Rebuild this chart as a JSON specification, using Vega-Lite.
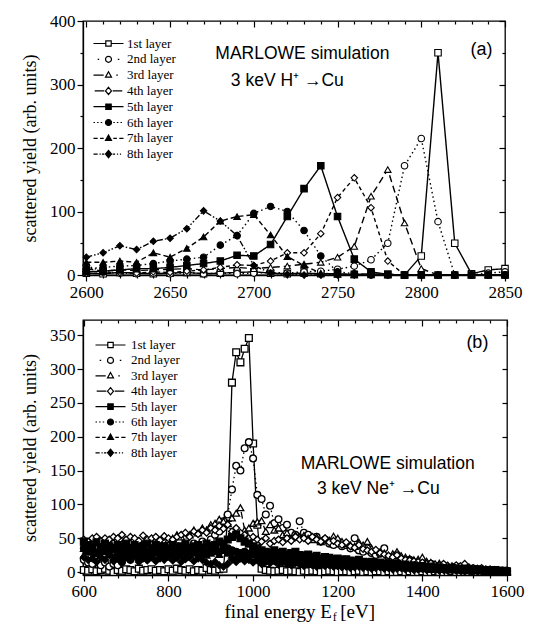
{
"$schema": "https://vega.github.io/schema/vega-lite/v6.json",
"padding": {"left": 20, "top": 11, "right": 0, "bottom": 0},
"spacing": 17,
"config": {
  "view": {"stroke": "black", "strokeWidth": 1.3},
  "font": "Liberation Serif",
  "axis": {"grid": false, "domainColor": "black", "domainWidth": 1.3, "tickColor": "black", "tickWidth": 1.2, "labelColor": "black", "labelFont": "Liberation Serif", "labelFontSize": 17, "titleFont": "Liberation Serif", "titleFontSize": 18, "titleFontWeight": "normal", "titleColor": "black", "labelPadding": 2, "labelFlush": false, "labelOverlap": false, "titlePadding": 10, "format": "d"},
  "legend": {"orient": "none", "title": null, "padding": 0, "labelFont": "Liberation Serif", "labelFontSize": 13, "labelColor": "black", "symbolSize": 36, "symbolStrokeWidth": 1.2, "symbolStrokeColor": "black", "rowPadding": 1.8}
},
"datasets": {
"top": [
{"s":1,"E":2600,"Y":3},{"s":1,"E":2610,"Y":2},{"s":1,"E":2620,"Y":4},{"s":1,"E":2630,"Y":3},{"s":1,"E":2640,"Y":2},{"s":1,"E":2650,"Y":3},{"s":1,"E":2660,"Y":4},{"s":1,"E":2670,"Y":2},{"s":1,"E":2680,"Y":3},{"s":1,"E":2690,"Y":4},{"s":1,"E":2700,"Y":5},{"s":1,"E":2710,"Y":3},{"s":1,"E":2720,"Y":2},{"s":1,"E":2730,"Y":3},{"s":1,"E":2740,"Y":2},{"s":1,"E":2750,"Y":2},{"s":1,"E":2760,"Y":1},{"s":1,"E":2770,"Y":2},{"s":1,"E":2780,"Y":1},{"s":1,"E":2790,"Y":0},{"s":1,"E":2800,"Y":30},{"s":1,"E":2810,"Y":350},{"s":1,"E":2820,"Y":50},{"s":1,"E":2830,"Y":2},{"s":1,"E":2840,"Y":8},{"s":1,"E":2850,"Y":10},
{"s":2,"E":2600,"Y":15},{"s":2,"E":2610,"Y":5},{"s":2,"E":2620,"Y":3},{"s":2,"E":2630,"Y":2},{"s":2,"E":2640,"Y":3},{"s":2,"E":2650,"Y":2},{"s":2,"E":2660,"Y":4},{"s":2,"E":2670,"Y":2},{"s":2,"E":2680,"Y":3},{"s":2,"E":2690,"Y":2},{"s":2,"E":2700,"Y":3},{"s":2,"E":2710,"Y":4},{"s":2,"E":2720,"Y":3},{"s":2,"E":2730,"Y":5},{"s":2,"E":2740,"Y":6},{"s":2,"E":2750,"Y":9},{"s":2,"E":2760,"Y":14},{"s":2,"E":2770,"Y":24},{"s":2,"E":2780,"Y":50},{"s":2,"E":2790,"Y":172},{"s":2,"E":2800,"Y":215},{"s":2,"E":2810,"Y":84},{"s":2,"E":2820,"Y":0},{"s":2,"E":2830,"Y":0},{"s":2,"E":2840,"Y":3},{"s":2,"E":2850,"Y":5},
{"s":3,"E":2600,"Y":10},{"s":3,"E":2610,"Y":6},{"s":3,"E":2620,"Y":8},{"s":3,"E":2630,"Y":7},{"s":3,"E":2640,"Y":8},{"s":3,"E":2650,"Y":9},{"s":3,"E":2660,"Y":10},{"s":3,"E":2670,"Y":8},{"s":3,"E":2680,"Y":10},{"s":3,"E":2690,"Y":12},{"s":3,"E":2700,"Y":10},{"s":3,"E":2710,"Y":12},{"s":3,"E":2720,"Y":14},{"s":3,"E":2730,"Y":17},{"s":3,"E":2740,"Y":20},{"s":3,"E":2750,"Y":28},{"s":3,"E":2760,"Y":45},{"s":3,"E":2770,"Y":124},{"s":3,"E":2780,"Y":166},{"s":3,"E":2790,"Y":82},{"s":3,"E":2800,"Y":10},{"s":3,"E":2810,"Y":0},{"s":3,"E":2820,"Y":0},{"s":3,"E":2830,"Y":0},{"s":3,"E":2840,"Y":0},{"s":3,"E":2850,"Y":0},
{"s":4,"E":2600,"Y":2},{"s":4,"E":2610,"Y":3},{"s":4,"E":2620,"Y":4},{"s":4,"E":2630,"Y":3},{"s":4,"E":2640,"Y":5},{"s":4,"E":2650,"Y":4},{"s":4,"E":2660,"Y":6},{"s":4,"E":2670,"Y":8},{"s":4,"E":2680,"Y":12},{"s":4,"E":2690,"Y":16},{"s":4,"E":2700,"Y":15},{"s":4,"E":2710,"Y":22},{"s":4,"E":2720,"Y":35},{"s":4,"E":2730,"Y":35},{"s":4,"E":2740,"Y":65},{"s":4,"E":2750,"Y":122},{"s":4,"E":2760,"Y":153},{"s":4,"E":2770,"Y":106},{"s":4,"E":2780,"Y":22},{"s":4,"E":2790,"Y":0},{"s":4,"E":2800,"Y":0},{"s":4,"E":2810,"Y":0},{"s":4,"E":2820,"Y":0},{"s":4,"E":2830,"Y":0},{"s":4,"E":2840,"Y":0},{"s":4,"E":2850,"Y":0},
{"s":5,"E":2600,"Y":5},{"s":5,"E":2610,"Y":6},{"s":5,"E":2620,"Y":8},{"s":5,"E":2630,"Y":10},{"s":5,"E":2640,"Y":10},{"s":5,"E":2650,"Y":12},{"s":5,"E":2660,"Y":15},{"s":5,"E":2670,"Y":18},{"s":5,"E":2680,"Y":22},{"s":5,"E":2690,"Y":31},{"s":5,"E":2700,"Y":30},{"s":5,"E":2710,"Y":48},{"s":5,"E":2720,"Y":92},{"s":5,"E":2730,"Y":136},{"s":5,"E":2740,"Y":172},{"s":5,"E":2750,"Y":92},{"s":5,"E":2760,"Y":25},{"s":5,"E":2770,"Y":5},{"s":5,"E":2780,"Y":1},{"s":5,"E":2790,"Y":0},{"s":5,"E":2800,"Y":0},{"s":5,"E":2810,"Y":0},{"s":5,"E":2820,"Y":0},{"s":5,"E":2830,"Y":0},{"s":5,"E":2840,"Y":0},{"s":5,"E":2850,"Y":0},
{"s":6,"E":2600,"Y":10},{"s":6,"E":2610,"Y":12},{"s":6,"E":2620,"Y":14},{"s":6,"E":2630,"Y":15},{"s":6,"E":2640,"Y":18},{"s":6,"E":2650,"Y":22},{"s":6,"E":2660,"Y":25},{"s":6,"E":2670,"Y":28},{"s":6,"E":2680,"Y":47},{"s":6,"E":2690,"Y":62},{"s":6,"E":2700,"Y":97},{"s":6,"E":2710,"Y":108},{"s":6,"E":2720,"Y":100},{"s":6,"E":2730,"Y":70},{"s":6,"E":2740,"Y":30},{"s":6,"E":2750,"Y":5},{"s":6,"E":2760,"Y":2},{"s":6,"E":2770,"Y":0},{"s":6,"E":2780,"Y":0},{"s":6,"E":2790,"Y":0},{"s":6,"E":2800,"Y":0},{"s":6,"E":2810,"Y":0},{"s":6,"E":2820,"Y":0},{"s":6,"E":2830,"Y":0},{"s":6,"E":2840,"Y":0},{"s":6,"E":2850,"Y":0},
{"s":7,"E":2600,"Y":20},{"s":7,"E":2610,"Y":20},{"s":7,"E":2620,"Y":22},{"s":7,"E":2630,"Y":20},{"s":7,"E":2640,"Y":35},{"s":7,"E":2650,"Y":28},{"s":7,"E":2660,"Y":42},{"s":7,"E":2670,"Y":60},{"s":7,"E":2680,"Y":85},{"s":7,"E":2690,"Y":92},{"s":7,"E":2700,"Y":95},{"s":7,"E":2710,"Y":63},{"s":7,"E":2720,"Y":29},{"s":7,"E":2730,"Y":15},{"s":7,"E":2740,"Y":3},{"s":7,"E":2750,"Y":1},{"s":7,"E":2760,"Y":0},{"s":7,"E":2770,"Y":0},{"s":7,"E":2780,"Y":0},{"s":7,"E":2790,"Y":0},{"s":7,"E":2800,"Y":0},{"s":7,"E":2810,"Y":0},{"s":7,"E":2820,"Y":0},{"s":7,"E":2830,"Y":0},{"s":7,"E":2840,"Y":0},{"s":7,"E":2850,"Y":0},
{"s":8,"E":2600,"Y":28},{"s":8,"E":2610,"Y":35},{"s":8,"E":2620,"Y":46},{"s":8,"E":2630,"Y":40},{"s":8,"E":2640,"Y":53},{"s":8,"E":2650,"Y":58},{"s":8,"E":2660,"Y":73},{"s":8,"E":2670,"Y":101},{"s":8,"E":2680,"Y":85},{"s":8,"E":2690,"Y":62},{"s":8,"E":2700,"Y":15},{"s":8,"E":2710,"Y":3},{"s":8,"E":2720,"Y":1},{"s":8,"E":2730,"Y":0},{"s":8,"E":2740,"Y":0},{"s":8,"E":2750,"Y":0},{"s":8,"E":2760,"Y":0},{"s":8,"E":2770,"Y":0},{"s":8,"E":2780,"Y":0},{"s":8,"E":2790,"Y":0},{"s":8,"E":2800,"Y":0},{"s":8,"E":2810,"Y":0},{"s":8,"E":2820,"Y":0},{"s":8,"E":2830,"Y":0},{"s":8,"E":2840,"Y":0},{"s":8,"E":2850,"Y":0}
],
"bot": [
{"s":1,"E":600,"Y":3},{"s":1,"E":610,"Y":2},{"s":1,"E":620,"Y":4},{"s":1,"E":630,"Y":1},{"s":1,"E":640,"Y":3},{"s":1,"E":650,"Y":5},{"s":1,"E":660,"Y":2},{"s":1,"E":670,"Y":0},{"s":1,"E":680,"Y":3},{"s":1,"E":690,"Y":2},
{"s":1,"E":700,"Y":4},{"s":1,"E":710,"Y":3},{"s":1,"E":720,"Y":1},{"s":1,"E":730,"Y":5},{"s":1,"E":740,"Y":2},{"s":1,"E":750,"Y":3},{"s":1,"E":760,"Y":4},{"s":1,"E":770,"Y":2},{"s":1,"E":780,"Y":3},{"s":1,"E":790,"Y":1},
{"s":1,"E":800,"Y":4},{"s":1,"E":810,"Y":2},{"s":1,"E":820,"Y":5},{"s":1,"E":830,"Y":3},{"s":1,"E":840,"Y":2},{"s":1,"E":850,"Y":4},{"s":1,"E":860,"Y":1},{"s":1,"E":870,"Y":3},{"s":1,"E":880,"Y":2},{"s":1,"E":890,"Y":6},
{"s":1,"E":900,"Y":3},{"s":1,"E":910,"Y":2},{"s":1,"E":920,"Y":4},{"s":1,"E":930,"Y":5},{"s":1,"E":940,"Y":80},{"s":1,"E":950,"Y":280},{"s":1,"E":960,"Y":325},{"s":1,"E":970,"Y":310},{"s":1,"E":980,"Y":330},{"s":1,"E":990,"Y":346},
{"s":1,"E":1000,"Y":190},{"s":1,"E":1010,"Y":70},{"s":1,"E":1020,"Y":5},{"s":1,"E":1030,"Y":3},{"s":1,"E":1040,"Y":2},{"s":1,"E":1050,"Y":1},{"s":1,"E":1060,"Y":2},{"s":1,"E":1070,"Y":3},{"s":1,"E":1080,"Y":1},{"s":1,"E":1090,"Y":2},
{"s":1,"E":1100,"Y":1},{"s":1,"E":1110,"Y":0},{"s":1,"E":1120,"Y":2},{"s":1,"E":1130,"Y":1},{"s":1,"E":1140,"Y":2},{"s":1,"E":1150,"Y":1},{"s":1,"E":1160,"Y":0},{"s":1,"E":1170,"Y":1},{"s":1,"E":1180,"Y":2},{"s":1,"E":1190,"Y":1},
{"s":1,"E":1200,"Y":0},{"s":1,"E":1210,"Y":1},{"s":1,"E":1220,"Y":1},{"s":1,"E":1230,"Y":0},{"s":1,"E":1240,"Y":1},{"s":1,"E":1250,"Y":2},{"s":1,"E":1260,"Y":0},{"s":1,"E":1270,"Y":1},{"s":1,"E":1280,"Y":0},{"s":1,"E":1290,"Y":1},
{"s":1,"E":1300,"Y":1},{"s":1,"E":1310,"Y":0},{"s":1,"E":1320,"Y":1},{"s":1,"E":1330,"Y":0},{"s":1,"E":1340,"Y":0},{"s":1,"E":1350,"Y":1},{"s":1,"E":1360,"Y":0},{"s":1,"E":1370,"Y":1},{"s":1,"E":1380,"Y":0},{"s":1,"E":1390,"Y":0},
{"s":1,"E":1400,"Y":1},{"s":1,"E":1410,"Y":0},{"s":1,"E":1420,"Y":0},{"s":1,"E":1430,"Y":1},{"s":1,"E":1440,"Y":0},{"s":1,"E":1450,"Y":0},{"s":1,"E":1460,"Y":0},{"s":1,"E":1470,"Y":1},{"s":1,"E":1480,"Y":0},{"s":1,"E":1490,"Y":0},
{"s":1,"E":1500,"Y":0},{"s":1,"E":1510,"Y":0},{"s":1,"E":1520,"Y":1},{"s":1,"E":1530,"Y":0},{"s":1,"E":1540,"Y":0},{"s":1,"E":1550,"Y":0},{"s":1,"E":1560,"Y":0},{"s":1,"E":1570,"Y":0},{"s":1,"E":1580,"Y":0},{"s":1,"E":1590,"Y":0},{"s":1,"E":1600,"Y":0},
{"s":2,"E":600,"Y":18},{"s":2,"E":610,"Y":14},{"s":2,"E":620,"Y":12},{"s":2,"E":630,"Y":20},{"s":2,"E":640,"Y":10},{"s":2,"E":650,"Y":14},{"s":2,"E":660,"Y":8},{"s":2,"E":670,"Y":12},{"s":2,"E":680,"Y":10},{"s":2,"E":690,"Y":15},
{"s":2,"E":700,"Y":22},{"s":2,"E":710,"Y":18},{"s":2,"E":720,"Y":25},{"s":2,"E":730,"Y":20},{"s":2,"E":740,"Y":28},{"s":2,"E":750,"Y":24},{"s":2,"E":760,"Y":30},{"s":2,"E":770,"Y":26},{"s":2,"E":780,"Y":32},{"s":2,"E":790,"Y":28},
{"s":2,"E":800,"Y":35},{"s":2,"E":810,"Y":30},{"s":2,"E":820,"Y":38},{"s":2,"E":830,"Y":34},{"s":2,"E":840,"Y":40},{"s":2,"E":850,"Y":36},{"s":2,"E":860,"Y":42},{"s":2,"E":870,"Y":38},{"s":2,"E":880,"Y":45},{"s":2,"E":890,"Y":40},
{"s":2,"E":900,"Y":48},{"s":2,"E":910,"Y":55},{"s":2,"E":920,"Y":60},{"s":2,"E":930,"Y":75},{"s":2,"E":940,"Y":85},{"s":2,"E":950,"Y":122},{"s":2,"E":960,"Y":157},{"s":2,"E":970,"Y":150},{"s":2,"E":980,"Y":183},{"s":2,"E":990,"Y":192},
{"s":2,"E":1000,"Y":168},{"s":2,"E":1010,"Y":114},{"s":2,"E":1020,"Y":108},{"s":2,"E":1030,"Y":85},{"s":2,"E":1040,"Y":98},{"s":2,"E":1050,"Y":72},{"s":2,"E":1060,"Y":78},{"s":2,"E":1070,"Y":65},{"s":2,"E":1080,"Y":70},{"s":2,"E":1090,"Y":58},
{"s":2,"E":1100,"Y":55},{"s":2,"E":1110,"Y":75},{"s":2,"E":1120,"Y":58},{"s":2,"E":1130,"Y":55},{"s":2,"E":1140,"Y":50},{"s":2,"E":1150,"Y":52},{"s":2,"E":1160,"Y":45},{"s":2,"E":1170,"Y":48},{"s":2,"E":1180,"Y":42},{"s":2,"E":1190,"Y":40},
{"s":2,"E":1200,"Y":45},{"s":2,"E":1210,"Y":38},{"s":2,"E":1220,"Y":40},{"s":2,"E":1230,"Y":35},{"s":2,"E":1240,"Y":50},{"s":2,"E":1250,"Y":32},{"s":2,"E":1260,"Y":30},{"s":2,"E":1270,"Y":35},{"s":2,"E":1280,"Y":28},{"s":2,"E":1290,"Y":25},
{"s":2,"E":1300,"Y":27},{"s":2,"E":1310,"Y":35},{"s":2,"E":1320,"Y":22},{"s":2,"E":1330,"Y":20},{"s":2,"E":1340,"Y":25},{"s":2,"E":1350,"Y":18},{"s":2,"E":1360,"Y":16},{"s":2,"E":1370,"Y":18},{"s":2,"E":1380,"Y":14},{"s":2,"E":1390,"Y":12},
{"s":2,"E":1400,"Y":15},{"s":2,"E":1410,"Y":10},{"s":2,"E":1420,"Y":12},{"s":2,"E":1430,"Y":9},{"s":2,"E":1440,"Y":8},{"s":2,"E":1450,"Y":10},{"s":2,"E":1460,"Y":7},{"s":2,"E":1470,"Y":6},{"s":2,"E":1480,"Y":8},{"s":2,"E":1490,"Y":5},
{"s":2,"E":1500,"Y":6},{"s":2,"E":1510,"Y":4},{"s":2,"E":1520,"Y":5},{"s":2,"E":1530,"Y":3},{"s":2,"E":1540,"Y":4},{"s":2,"E":1550,"Y":3},{"s":2,"E":1560,"Y":2},{"s":2,"E":1570,"Y":3},{"s":2,"E":1580,"Y":2},{"s":2,"E":1590,"Y":1},{"s":2,"E":1600,"Y":2},
{"s":3,"E":600,"Y":35},{"s":3,"E":610,"Y":40},{"s":3,"E":620,"Y":32},{"s":3,"E":630,"Y":38},{"s":3,"E":640,"Y":42},{"s":3,"E":650,"Y":36},{"s":3,"E":660,"Y":40},{"s":3,"E":670,"Y":45},{"s":3,"E":680,"Y":38},{"s":3,"E":690,"Y":42},
{"s":3,"E":700,"Y":40},{"s":3,"E":710,"Y":44},{"s":3,"E":720,"Y":38},{"s":3,"E":730,"Y":46},{"s":3,"E":740,"Y":42},{"s":3,"E":750,"Y":48},{"s":3,"E":760,"Y":44},{"s":3,"E":770,"Y":50},{"s":3,"E":780,"Y":46},{"s":3,"E":790,"Y":52},
{"s":3,"E":800,"Y":48},{"s":3,"E":810,"Y":50},{"s":3,"E":820,"Y":55},{"s":3,"E":830,"Y":52},{"s":3,"E":840,"Y":58},{"s":3,"E":850,"Y":55},{"s":3,"E":860,"Y":62},{"s":3,"E":870,"Y":58},{"s":3,"E":880,"Y":65},{"s":3,"E":890,"Y":62},
{"s":3,"E":900,"Y":70},{"s":3,"E":910,"Y":72},{"s":3,"E":920,"Y":78},{"s":3,"E":930,"Y":75},{"s":3,"E":940,"Y":72},{"s":3,"E":950,"Y":80},{"s":3,"E":960,"Y":87},{"s":3,"E":970,"Y":95},{"s":3,"E":980,"Y":62},{"s":3,"E":990,"Y":65},
{"s":3,"E":1000,"Y":72},{"s":3,"E":1010,"Y":74},{"s":3,"E":1020,"Y":76},{"s":3,"E":1030,"Y":60},{"s":3,"E":1040,"Y":70},{"s":3,"E":1050,"Y":62},{"s":3,"E":1060,"Y":65},{"s":3,"E":1070,"Y":55},{"s":3,"E":1080,"Y":58},{"s":3,"E":1090,"Y":50},
{"s":3,"E":1100,"Y":55},{"s":3,"E":1110,"Y":52},{"s":3,"E":1120,"Y":54},{"s":3,"E":1130,"Y":50},{"s":3,"E":1140,"Y":48},{"s":3,"E":1150,"Y":52},{"s":3,"E":1160,"Y":45},{"s":3,"E":1170,"Y":50},{"s":3,"E":1180,"Y":47},{"s":3,"E":1190,"Y":53},
{"s":3,"E":1200,"Y":50},{"s":3,"E":1210,"Y":45},{"s":3,"E":1220,"Y":42},{"s":3,"E":1230,"Y":40},{"s":3,"E":1240,"Y":38},{"s":3,"E":1250,"Y":44},{"s":3,"E":1260,"Y":40},{"s":3,"E":1270,"Y":45},{"s":3,"E":1280,"Y":35},{"s":3,"E":1290,"Y":32},
{"s":3,"E":1300,"Y":30},{"s":3,"E":1310,"Y":28},{"s":3,"E":1320,"Y":25},{"s":3,"E":1330,"Y":27},{"s":3,"E":1340,"Y":30},{"s":3,"E":1350,"Y":24},{"s":3,"E":1360,"Y":22},{"s":3,"E":1370,"Y":20},{"s":3,"E":1380,"Y":18},{"s":3,"E":1390,"Y":19},
{"s":3,"E":1400,"Y":22},{"s":3,"E":1410,"Y":16},{"s":3,"E":1420,"Y":14},{"s":3,"E":1430,"Y":12},{"s":3,"E":1440,"Y":13},{"s":3,"E":1450,"Y":11},{"s":3,"E":1460,"Y":10},{"s":3,"E":1470,"Y":9},{"s":3,"E":1480,"Y":8},{"s":3,"E":1490,"Y":7},
{"s":3,"E":1500,"Y":6},{"s":3,"E":1510,"Y":6},{"s":3,"E":1520,"Y":5},{"s":3,"E":1530,"Y":4},{"s":3,"E":1540,"Y":4},{"s":3,"E":1550,"Y":3},{"s":3,"E":1560,"Y":3},{"s":3,"E":1570,"Y":2},{"s":3,"E":1580,"Y":2},{"s":3,"E":1590,"Y":1},{"s":3,"E":1600,"Y":1},
{"s":4,"E":600,"Y":48},{"s":4,"E":610,"Y":45},{"s":4,"E":620,"Y":50},{"s":4,"E":630,"Y":52},{"s":4,"E":640,"Y":46},{"s":4,"E":650,"Y":50},{"s":4,"E":660,"Y":48},{"s":4,"E":670,"Y":52},{"s":4,"E":680,"Y":50},{"s":4,"E":690,"Y":55},
{"s":4,"E":700,"Y":48},{"s":4,"E":710,"Y":52},{"s":4,"E":720,"Y":50},{"s":4,"E":730,"Y":46},{"s":4,"E":740,"Y":54},{"s":4,"E":750,"Y":48},{"s":4,"E":760,"Y":50},{"s":4,"E":770,"Y":52},{"s":4,"E":780,"Y":47},{"s":4,"E":790,"Y":53},
{"s":4,"E":800,"Y":50},{"s":4,"E":810,"Y":48},{"s":4,"E":820,"Y":52},{"s":4,"E":830,"Y":55},{"s":4,"E":840,"Y":58},{"s":4,"E":850,"Y":52},{"s":4,"E":860,"Y":60},{"s":4,"E":870,"Y":56},{"s":4,"E":880,"Y":62},{"s":4,"E":890,"Y":58},
{"s":4,"E":900,"Y":65},{"s":4,"E":910,"Y":62},{"s":4,"E":920,"Y":68},{"s":4,"E":930,"Y":64},{"s":4,"E":940,"Y":70},{"s":4,"E":950,"Y":60},{"s":4,"E":960,"Y":65},{"s":4,"E":970,"Y":58},{"s":4,"E":980,"Y":55},{"s":4,"E":990,"Y":50},
{"s":4,"E":1000,"Y":52},{"s":4,"E":1010,"Y":48},{"s":4,"E":1020,"Y":45},{"s":4,"E":1030,"Y":50},{"s":4,"E":1040,"Y":42},{"s":4,"E":1050,"Y":46},{"s":4,"E":1060,"Y":48},{"s":4,"E":1070,"Y":44},{"s":4,"E":1080,"Y":50},{"s":4,"E":1090,"Y":46},
{"s":4,"E":1100,"Y":52},{"s":4,"E":1110,"Y":48},{"s":4,"E":1120,"Y":50},{"s":4,"E":1130,"Y":46},{"s":4,"E":1140,"Y":52},{"s":4,"E":1150,"Y":48},{"s":4,"E":1160,"Y":45},{"s":4,"E":1170,"Y":50},{"s":4,"E":1180,"Y":44},{"s":4,"E":1190,"Y":46},
{"s":4,"E":1200,"Y":42},{"s":4,"E":1210,"Y":40},{"s":4,"E":1220,"Y":44},{"s":4,"E":1230,"Y":38},{"s":4,"E":1240,"Y":36},{"s":4,"E":1250,"Y":40},{"s":4,"E":1260,"Y":34},{"s":4,"E":1270,"Y":32},{"s":4,"E":1280,"Y":30},{"s":4,"E":1290,"Y":33},
{"s":4,"E":1300,"Y":28},{"s":4,"E":1310,"Y":26},{"s":4,"E":1320,"Y":24},{"s":4,"E":1330,"Y":22},{"s":4,"E":1340,"Y":25},{"s":4,"E":1350,"Y":20},{"s":4,"E":1360,"Y":18},{"s":4,"E":1370,"Y":17},{"s":4,"E":1380,"Y":16},{"s":4,"E":1390,"Y":15},
{"s":4,"E":1400,"Y":14},{"s":4,"E":1410,"Y":12},{"s":4,"E":1420,"Y":13},{"s":4,"E":1430,"Y":11},{"s":4,"E":1440,"Y":10},{"s":4,"E":1450,"Y":12},{"s":4,"E":1460,"Y":9},{"s":4,"E":1470,"Y":8},{"s":4,"E":1480,"Y":10},{"s":4,"E":1490,"Y":9},
{"s":4,"E":1500,"Y":12},{"s":4,"E":1510,"Y":7},{"s":4,"E":1520,"Y":6},{"s":4,"E":1530,"Y":5},{"s":4,"E":1540,"Y":6},{"s":4,"E":1550,"Y":4},{"s":4,"E":1560,"Y":4},{"s":4,"E":1570,"Y":3},{"s":4,"E":1580,"Y":3},{"s":4,"E":1590,"Y":2},{"s":4,"E":1600,"Y":2},
{"s":5,"E":600,"Y":45},{"s":5,"E":610,"Y":40},{"s":5,"E":620,"Y":38},{"s":5,"E":630,"Y":44},{"s":5,"E":640,"Y":36},{"s":5,"E":650,"Y":42},{"s":5,"E":660,"Y":38},{"s":5,"E":670,"Y":35},{"s":5,"E":680,"Y":40},{"s":5,"E":690,"Y":37},
{"s":5,"E":700,"Y":42},{"s":5,"E":710,"Y":36},{"s":5,"E":720,"Y":40},{"s":5,"E":730,"Y":34},{"s":5,"E":740,"Y":38},{"s":5,"E":750,"Y":42},{"s":5,"E":760,"Y":35},{"s":5,"E":770,"Y":40},{"s":5,"E":780,"Y":36},{"s":5,"E":790,"Y":38},
{"s":5,"E":800,"Y":34},{"s":5,"E":810,"Y":40},{"s":5,"E":820,"Y":36},{"s":5,"E":830,"Y":38},{"s":5,"E":840,"Y":42},{"s":5,"E":850,"Y":35},{"s":5,"E":860,"Y":38},{"s":5,"E":870,"Y":40},{"s":5,"E":880,"Y":36},{"s":5,"E":890,"Y":42},
{"s":5,"E":900,"Y":38},{"s":5,"E":910,"Y":40},{"s":5,"E":920,"Y":45},{"s":5,"E":930,"Y":42},{"s":5,"E":940,"Y":48},{"s":5,"E":950,"Y":52},{"s":5,"E":960,"Y":55},{"s":5,"E":970,"Y":50},{"s":5,"E":980,"Y":45},{"s":5,"E":990,"Y":42},
{"s":5,"E":1000,"Y":38},{"s":5,"E":1010,"Y":35},{"s":5,"E":1020,"Y":32},{"s":5,"E":1030,"Y":30},{"s":5,"E":1040,"Y":28},{"s":5,"E":1050,"Y":32},{"s":5,"E":1060,"Y":28},{"s":5,"E":1070,"Y":30},{"s":5,"E":1080,"Y":26},{"s":5,"E":1090,"Y":28},
{"s":5,"E":1100,"Y":30},{"s":5,"E":1110,"Y":25},{"s":5,"E":1120,"Y":24},{"s":5,"E":1130,"Y":26},{"s":5,"E":1140,"Y":22},{"s":5,"E":1150,"Y":24},{"s":5,"E":1160,"Y":20},{"s":5,"E":1170,"Y":22},{"s":5,"E":1180,"Y":21},{"s":5,"E":1190,"Y":19},
{"s":5,"E":1200,"Y":20},{"s":5,"E":1210,"Y":18},{"s":5,"E":1220,"Y":19},{"s":5,"E":1230,"Y":17},{"s":5,"E":1240,"Y":16},{"s":5,"E":1250,"Y":18},{"s":5,"E":1260,"Y":15},{"s":5,"E":1270,"Y":14},{"s":5,"E":1280,"Y":15},{"s":5,"E":1290,"Y":13},
{"s":5,"E":1300,"Y":14},{"s":5,"E":1310,"Y":12},{"s":5,"E":1320,"Y":13},{"s":5,"E":1330,"Y":11},{"s":5,"E":1340,"Y":12},{"s":5,"E":1350,"Y":10},{"s":5,"E":1360,"Y":11},{"s":5,"E":1370,"Y":9},{"s":5,"E":1380,"Y":10},{"s":5,"E":1390,"Y":8},
{"s":5,"E":1400,"Y":9},{"s":5,"E":1410,"Y":7},{"s":5,"E":1420,"Y":8},{"s":5,"E":1430,"Y":6},{"s":5,"E":1440,"Y":7},{"s":5,"E":1450,"Y":6},{"s":5,"E":1460,"Y":5},{"s":5,"E":1470,"Y":6},{"s":5,"E":1480,"Y":5},{"s":5,"E":1490,"Y":4},
{"s":5,"E":1500,"Y":5},{"s":5,"E":1510,"Y":4},{"s":5,"E":1520,"Y":3},{"s":5,"E":1530,"Y":4},{"s":5,"E":1540,"Y":3},{"s":5,"E":1550,"Y":3},{"s":5,"E":1560,"Y":2},{"s":5,"E":1570,"Y":3},{"s":5,"E":1580,"Y":2},{"s":5,"E":1590,"Y":2},{"s":5,"E":1600,"Y":1},
{"s":6,"E":600,"Y":35},{"s":6,"E":610,"Y":30},{"s":6,"E":620,"Y":33},{"s":6,"E":630,"Y":28},{"s":6,"E":640,"Y":32},{"s":6,"E":650,"Y":36},{"s":6,"E":660,"Y":30},{"s":6,"E":670,"Y":34},{"s":6,"E":680,"Y":28},{"s":6,"E":690,"Y":32},
{"s":6,"E":700,"Y":30},{"s":6,"E":710,"Y":34},{"s":6,"E":720,"Y":28},{"s":6,"E":730,"Y":32},{"s":6,"E":740,"Y":30},{"s":6,"E":750,"Y":27},{"s":6,"E":760,"Y":33},{"s":6,"E":770,"Y":29},{"s":6,"E":780,"Y":31},{"s":6,"E":790,"Y":28},
{"s":6,"E":800,"Y":32},{"s":6,"E":810,"Y":30},{"s":6,"E":820,"Y":27},{"s":6,"E":830,"Y":33},{"s":6,"E":840,"Y":30},{"s":6,"E":850,"Y":28},{"s":6,"E":860,"Y":32},{"s":6,"E":870,"Y":30},{"s":6,"E":880,"Y":34},{"s":6,"E":890,"Y":30},
{"s":6,"E":900,"Y":32},{"s":6,"E":910,"Y":35},{"s":6,"E":920,"Y":30},{"s":6,"E":930,"Y":38},{"s":6,"E":940,"Y":35},{"s":6,"E":950,"Y":32},{"s":6,"E":960,"Y":30},{"s":6,"E":970,"Y":28},{"s":6,"E":980,"Y":30},{"s":6,"E":990,"Y":27},
{"s":6,"E":1000,"Y":30},{"s":6,"E":1010,"Y":28},{"s":6,"E":1020,"Y":25},{"s":6,"E":1030,"Y":27},{"s":6,"E":1040,"Y":24},{"s":6,"E":1050,"Y":26},{"s":6,"E":1060,"Y":23},{"s":6,"E":1070,"Y":25},{"s":6,"E":1080,"Y":22},{"s":6,"E":1090,"Y":24},
{"s":6,"E":1100,"Y":21},{"s":6,"E":1110,"Y":23},{"s":6,"E":1120,"Y":20},{"s":6,"E":1130,"Y":22},{"s":6,"E":1140,"Y":19},{"s":6,"E":1150,"Y":20},{"s":6,"E":1160,"Y":18},{"s":6,"E":1170,"Y":19},{"s":6,"E":1180,"Y":17},{"s":6,"E":1190,"Y":18},
{"s":6,"E":1200,"Y":16},{"s":6,"E":1210,"Y":17},{"s":6,"E":1220,"Y":15},{"s":6,"E":1230,"Y":16},{"s":6,"E":1240,"Y":14},{"s":6,"E":1250,"Y":15},{"s":6,"E":1260,"Y":13},{"s":6,"E":1270,"Y":14},{"s":6,"E":1280,"Y":12},{"s":6,"E":1290,"Y":13},
{"s":6,"E":1300,"Y":11},{"s":6,"E":1310,"Y":12},{"s":6,"E":1320,"Y":10},{"s":6,"E":1330,"Y":11},{"s":6,"E":1340,"Y":10},{"s":6,"E":1350,"Y":9},{"s":6,"E":1360,"Y":10},{"s":6,"E":1370,"Y":8},{"s":6,"E":1380,"Y":9},{"s":6,"E":1390,"Y":7},
{"s":6,"E":1400,"Y":8},{"s":6,"E":1410,"Y":7},{"s":6,"E":1420,"Y":6},{"s":6,"E":1430,"Y":7},{"s":6,"E":1440,"Y":5},{"s":6,"E":1450,"Y":6},{"s":6,"E":1460,"Y":5},{"s":6,"E":1470,"Y":4},{"s":6,"E":1480,"Y":5},{"s":6,"E":1490,"Y":4},
{"s":6,"E":1500,"Y":3},{"s":6,"E":1510,"Y":4},{"s":6,"E":1520,"Y":3},{"s":6,"E":1530,"Y":3},{"s":6,"E":1540,"Y":2},{"s":6,"E":1550,"Y":3},{"s":6,"E":1560,"Y":2},{"s":6,"E":1570,"Y":2},{"s":6,"E":1580,"Y":1},{"s":6,"E":1590,"Y":2},{"s":6,"E":1600,"Y":1},
{"s":7,"E":600,"Y":25},{"s":7,"E":610,"Y":30},{"s":7,"E":620,"Y":22},{"s":7,"E":630,"Y":28},{"s":7,"E":640,"Y":24},{"s":7,"E":650,"Y":30},{"s":7,"E":660,"Y":26},{"s":7,"E":670,"Y":22},{"s":7,"E":680,"Y":28},{"s":7,"E":690,"Y":24},
{"s":7,"E":700,"Y":30},{"s":7,"E":710,"Y":25},{"s":7,"E":720,"Y":28},{"s":7,"E":730,"Y":22},{"s":7,"E":740,"Y":26},{"s":7,"E":750,"Y":30},{"s":7,"E":760,"Y":24},{"s":7,"E":770,"Y":28},{"s":7,"E":780,"Y":25},{"s":7,"E":790,"Y":22},
{"s":7,"E":800,"Y":27},{"s":7,"E":810,"Y":24},{"s":7,"E":820,"Y":28},{"s":7,"E":830,"Y":25},{"s":7,"E":840,"Y":22},{"s":7,"E":850,"Y":26},{"s":7,"E":860,"Y":28},{"s":7,"E":870,"Y":24},{"s":7,"E":880,"Y":27},{"s":7,"E":890,"Y":25},
{"s":7,"E":900,"Y":28},{"s":7,"E":910,"Y":30},{"s":7,"E":920,"Y":26},{"s":7,"E":930,"Y":32},{"s":7,"E":940,"Y":28},{"s":7,"E":950,"Y":25},{"s":7,"E":960,"Y":22},{"s":7,"E":970,"Y":26},{"s":7,"E":980,"Y":24},{"s":7,"E":990,"Y":22},
{"s":7,"E":1000,"Y":25},{"s":7,"E":1010,"Y":22},{"s":7,"E":1020,"Y":20},{"s":7,"E":1030,"Y":23},{"s":7,"E":1040,"Y":21},{"s":7,"E":1050,"Y":19},{"s":7,"E":1060,"Y":22},{"s":7,"E":1070,"Y":20},{"s":7,"E":1080,"Y":18},{"s":7,"E":1090,"Y":20},
{"s":7,"E":1100,"Y":17},{"s":7,"E":1110,"Y":19},{"s":7,"E":1120,"Y":16},{"s":7,"E":1130,"Y":18},{"s":7,"E":1140,"Y":15},{"s":7,"E":1150,"Y":17},{"s":7,"E":1160,"Y":14},{"s":7,"E":1170,"Y":16},{"s":7,"E":1180,"Y":13},{"s":7,"E":1190,"Y":15},
{"s":7,"E":1200,"Y":14},{"s":7,"E":1210,"Y":12},{"s":7,"E":1220,"Y":13},{"s":7,"E":1230,"Y":11},{"s":7,"E":1240,"Y":12},{"s":7,"E":1250,"Y":10},{"s":7,"E":1260,"Y":11},{"s":7,"E":1270,"Y":10},{"s":7,"E":1280,"Y":9},{"s":7,"E":1290,"Y":10},
{"s":7,"E":1300,"Y":9},{"s":7,"E":1310,"Y":8},{"s":7,"E":1320,"Y":9},{"s":7,"E":1330,"Y":7},{"s":7,"E":1340,"Y":8},{"s":7,"E":1350,"Y":7},{"s":7,"E":1360,"Y":6},{"s":7,"E":1370,"Y":7},{"s":7,"E":1380,"Y":6},{"s":7,"E":1390,"Y":5},
{"s":7,"E":1400,"Y":6},{"s":7,"E":1410,"Y":5},{"s":7,"E":1420,"Y":4},{"s":7,"E":1430,"Y":5},{"s":7,"E":1440,"Y":4},{"s":7,"E":1450,"Y":4},{"s":7,"E":1460,"Y":3},{"s":7,"E":1470,"Y":4},{"s":7,"E":1480,"Y":3},{"s":7,"E":1490,"Y":3},
{"s":7,"E":1500,"Y":2},{"s":7,"E":1510,"Y":3},{"s":7,"E":1520,"Y":2},{"s":7,"E":1530,"Y":2},{"s":7,"E":1540,"Y":2},{"s":7,"E":1550,"Y":1},{"s":7,"E":1560,"Y":2},{"s":7,"E":1570,"Y":1},{"s":7,"E":1580,"Y":1},{"s":7,"E":1590,"Y":1},{"s":7,"E":1600,"Y":0},
{"s":8,"E":600,"Y":22},{"s":8,"E":610,"Y":18},{"s":8,"E":620,"Y":20},{"s":8,"E":630,"Y":15},{"s":8,"E":640,"Y":22},{"s":8,"E":650,"Y":18},{"s":8,"E":660,"Y":25},{"s":8,"E":670,"Y":16},{"s":8,"E":680,"Y":20},{"s":8,"E":690,"Y":14},
{"s":8,"E":700,"Y":22},{"s":8,"E":710,"Y":18},{"s":8,"E":720,"Y":24},{"s":8,"E":730,"Y":15},{"s":8,"E":740,"Y":20},{"s":8,"E":750,"Y":17},{"s":8,"E":760,"Y":22},{"s":8,"E":770,"Y":16},{"s":8,"E":780,"Y":20},{"s":8,"E":790,"Y":18},
{"s":8,"E":800,"Y":23},{"s":8,"E":810,"Y":17},{"s":8,"E":820,"Y":21},{"s":8,"E":830,"Y":15},{"s":8,"E":840,"Y":19},{"s":8,"E":850,"Y":22},{"s":8,"E":860,"Y":16},{"s":8,"E":870,"Y":20},{"s":8,"E":880,"Y":18},{"s":8,"E":890,"Y":14},
{"s":8,"E":900,"Y":12},{"s":8,"E":910,"Y":15},{"s":8,"E":920,"Y":10},{"s":8,"E":930,"Y":8},{"s":8,"E":940,"Y":12},{"s":8,"E":950,"Y":18},{"s":8,"E":960,"Y":15},{"s":8,"E":970,"Y":20},{"s":8,"E":980,"Y":16},{"s":8,"E":990,"Y":18},
{"s":8,"E":1000,"Y":14},{"s":8,"E":1010,"Y":17},{"s":8,"E":1020,"Y":12},{"s":8,"E":1030,"Y":15},{"s":8,"E":1040,"Y":13},{"s":8,"E":1050,"Y":16},{"s":8,"E":1060,"Y":11},{"s":8,"E":1070,"Y":14},{"s":8,"E":1080,"Y":12},{"s":8,"E":1090,"Y":10},
{"s":8,"E":1100,"Y":13},{"s":8,"E":1110,"Y":11},{"s":8,"E":1120,"Y":9},{"s":8,"E":1130,"Y":12},{"s":8,"E":1140,"Y":10},{"s":8,"E":1150,"Y":8},{"s":8,"E":1160,"Y":11},{"s":8,"E":1170,"Y":9},{"s":8,"E":1180,"Y":10},{"s":8,"E":1190,"Y":8},
{"s":8,"E":1200,"Y":9},{"s":8,"E":1210,"Y":7},{"s":8,"E":1220,"Y":8},{"s":8,"E":1230,"Y":6},{"s":8,"E":1240,"Y":7},{"s":8,"E":1250,"Y":8},{"s":8,"E":1260,"Y":6},{"s":8,"E":1270,"Y":7},{"s":8,"E":1280,"Y":5},{"s":8,"E":1290,"Y":6},
{"s":8,"E":1300,"Y":7},{"s":8,"E":1310,"Y":5},{"s":8,"E":1320,"Y":6},{"s":8,"E":1330,"Y":4},{"s":8,"E":1340,"Y":5},{"s":8,"E":1350,"Y":6},{"s":8,"E":1360,"Y":4},{"s":8,"E":1370,"Y":5},{"s":8,"E":1380,"Y":3},{"s":8,"E":1390,"Y":4},
{"s":8,"E":1400,"Y":5},{"s":8,"E":1410,"Y":3},{"s":8,"E":1420,"Y":4},{"s":8,"E":1430,"Y":3},{"s":8,"E":1440,"Y":2},{"s":8,"E":1450,"Y":3},{"s":8,"E":1460,"Y":2},{"s":8,"E":1470,"Y":3},{"s":8,"E":1480,"Y":2},{"s":8,"E":1490,"Y":2},
{"s":8,"E":1500,"Y":1},{"s":8,"E":1510,"Y":2},{"s":8,"E":1520,"Y":1},{"s":8,"E":1530,"Y":1},{"s":8,"E":1540,"Y":2},{"s":8,"E":1550,"Y":1},{"s":8,"E":1560,"Y":1},{"s":8,"E":1570,"Y":1},{"s":8,"E":1580,"Y":0},{"s":8,"E":1590,"Y":1},{"s":8,"E":1600,"Y":0}
]
},
"vconcat": [
{
  "width": 422, "height": 254,
  "data": {"name": "top"},
  "layer": [
    {"mark": {"type": "line", "color": "black", "strokeWidth": 1.4},
     "encoding": {
       "x": {"field": "E", "type": "quantitative", "scale": {"domain": [2598, 2850], "nice": false, "zero": false},
             "axis": {"orient": "bottom", "title": null, "labelPadding": 3, "values": [2600,2610,2620,2630,2640,2650,2660,2670,2680,2690,2700,2710,2720,2730,2740,2750,2760,2770,2780,2790,2800,2810,2820,2830,2840,2850],
                      "labelExpr": "datum.value % 50 == 0 ? datum.label : ''",
                      "tickSize": {"condition": {"test": "datum.value % 50 == 0", "value": 6}, "value": 3}}},
       "y": {"field": "Y", "type": "quantitative", "scale": {"domain": [0, 400], "nice": false},
             "axis": {"orient": "left", "title": "scattered yield (arb. units)", "values": [0,50,100,150,200,250,300,350,400],
                      "labelExpr": "datum.value % 100 == 0 ? datum.label : ''",
                      "tickSize": {"condition": {"test": "datum.value % 100 == 0", "value": 6}, "value": 3}}},
       "detail": {"field": "s", "type": "nominal"},
       "strokeDash": {"field": "s", "type": "nominal", "legend": null,
                      "scale": {"domain": [1,2,3,4,5,6,7,8], "range": [[1,0],[1.5,3],[7,4],[4,3],[1,0],[1.5,3],[5,3],[6,2,1.5,2,1.5,2]]}}
     }},
    {"mark": {"type": "point", "filled": true, "size": 42, "stroke": "black", "strokeWidth": 1.1, "opacity": 1},
     "encoding": {
       "x": {"field": "E", "type": "quantitative",
             "axis": {"orient": "top", "title": null, "labels": false, "domain": false, "values": [2600,2610,2620,2630,2640,2650,2660,2670,2680,2690,2700,2710,2720,2730,2740,2750,2760,2770,2780,2790,2800,2810,2820,2830,2840,2850],
                      "tickSize": {"condition": {"test": "datum.value % 50 == 0", "value": -6}, "value": -3}}},
       "y": {"field": "Y", "type": "quantitative",
             "axis": {"orient": "right", "title": null, "labels": false, "domain": false, "values": [0,50,100,150,200,250,300,350,400],
                      "tickSize": {"condition": {"test": "datum.value % 100 == 0", "value": -6}, "value": -3}}},
       "shape": {"field": "s", "type": "nominal", "legend": null,
                 "scale": {"domain": [1,2,3,4,5,6,7,8], "range": ["square","circle","triangle-up","diamond","square","circle","triangle-up","diamond"]}},
       "fill": {"field": "s", "type": "nominal", "legend": null,
                "scale": {"domain": [1,2,3,4,5,6,7,8], "range": ["white","white","white","white","black","black","black","black"]}}
     }},
    {"transform": [{"filter": "datum.E < 0"}],
     "mark": {"type": "point", "filled": true, "strokeWidth": 1.2, "opacity": 1},
     "encoding": {
       "x": {"field": "E", "type": "quantitative", "axis": null},
       "y": {"field": "Y", "type": "quantitative", "axis": null},
       "shape": {"field": "s", "type": "nominal",
                 "scale": {"domain": [1,2,3,4,5,6,7,8], "range": [
                   "M-5,0H-0.9M0.9,0H5M-0.9,-0.9H0.9V0.9H-0.9Z",
                   "M-3.6,0h0.5M3.1,0h0.5M1,0A1,1,0,1,1,-1,0A1,1,0,1,1,1,0Z",
                   "M-5,0H-1.6M2.6,0h0.5M0,-1.1L1,0.7H-1Z",
                   "M-4.6,0H-1.4M1.4,0H4.6M0,-1.2L1,0L0,1.2L-1,0Z",
                   "M-5,0H-0.9M0.9,0H5M-0.9,-0.9H0.9V0.9H-0.9Z",
                   "M-5,0h0.5M-3.8,0h0.5M-2.6,0h0.5M1.6,0h0.5M2.8,0h0.5M4,0h0.5M1,0A1,1,0,1,1,-1,0A1,1,0,1,1,1,0Z",
                   "M-5,0h1.4M-2.8,0h1.2M1.6,0h1.2M3.6,0h1.4M0,-1.1L1,0.7H-1Z",
                   "M-5,0h1.4M-3,0h0.4M-2.2,0h0.8M1.4,0h0.8M2.8,0h0.4M3.8,0h0.4M0,-1.2L1,0L0,1.2L-1,0Z"]},
                 "legend": {"legendX": 19, "legendY": 16, "labelOffset": 12, "labelFont": "Liberation Serif", "labelFontSize": 13, "labelExpr": "['','1st','2nd','3rd','4th','5th','6th','7th','8th'][datum.value] + ' layer'"}},
       "fill": {"field": "s", "type": "nominal",
                "scale": {"domain": [1,2,3,4,5,6,7,8], "range": ["white","white","white","white","black","black","black","black"]},
                "legend": {"legendX": 19, "legendY": 16, "labelOffset": 12, "labelFont": "Liberation Serif", "labelFontSize": 13, "labelExpr": "['','1st','2nd','3rd','4th','5th','6th','7th','8th'][datum.value] + ' layer'"}},
       "stroke": {"field": "s", "type": "nominal",
                "scale": {"domain": [1,2,3,4,5,6,7,8], "range": ["black","black","black","black","black","black","black","black"]},
                "legend": {"legendX": 19, "legendY": 16, "labelOffset": 12, "labelFont": "Liberation Serif", "labelFontSize": 13, "labelExpr": "['','1st','2nd','3rd','4th','5th','6th','7th','8th'][datum.value] + ' layer'"}}
     }},
    {"data": {"values": [{"t": "MARLOWE simulation"}]},
     "mark": {"type": "text", "font": "Liberation Sans", "fontSize": 17.5, "color": "black", "align": "center", "baseline": "middle"},
     "encoding": {"x": {"datum": 2729, "type": "quantitative", "axis": null}, "y": {"datum": 348, "type": "quantitative", "axis": null}, "text": {"field": "t"}}},
    {"data": {"values": [{"t": "3 keV H⁺ →Cu"}]},
     "mark": {"type": "text", "font": "Liberation Sans", "fontSize": 17.5, "color": "black", "align": "center", "baseline": "middle"},
     "encoding": {"x": {"datum": 2720, "type": "quantitative", "axis": null}, "y": {"datum": 305, "type": "quantitative", "axis": null}, "text": {"field": "t"}}},
    {"data": {"values": [{"t": "(a)"}]},
     "mark": {"type": "text", "font": "Liberation Sans", "fontSize": 18, "color": "black", "align": "center", "baseline": "middle"},
     "encoding": {"x": {"datum": 2836, "type": "quantitative", "axis": null}, "y": {"datum": 354, "type": "quantitative", "axis": null}, "text": {"field": "t"}}}
  ],
  "resolve": {"axis": {"x": "independent", "y": "independent"}, "scale": {"shape": "independent", "fill": "independent", "stroke": "independent"}}
},
{
  "width": 424, "height": 255,
  "data": {"name": "bot"},
  "layer": [
    {"mark": {"type": "line", "color": "black", "strokeWidth": 1.3},
     "encoding": {
       "x": {"field": "E", "type": "quantitative", "scale": {"domain": [598, 1600], "nice": false, "zero": false},
             "axis": {"orient": "bottom", "title": null, "values": [600,640,680,720,760,800,840,880,920,960,1000,1040,1080,1120,1160,1200,1240,1280,1320,1360,1400,1440,1480,1520,1560,1600],
                      "labelExpr": "datum.value % 200 == 0 ? datum.label : ''",
                      "tickSize": {"condition": {"test": "datum.value % 200 == 0", "value": 6}, "value": 3}}},
       "y": {"field": "Y", "type": "quantitative", "scale": {"domain": [-4.4, 372.6], "nice": false, "zero": false},
             "axis": {"orient": "left", "title": "scattered yield (arb. units)", "values": [0,50,100,150,200,250,300,350], "tickSize": 6}},
       "detail": {"field": "s", "type": "nominal"},
       "strokeDash": {"field": "s", "type": "nominal", "legend": null,
                      "scale": {"domain": [1,2,3,4,5,6,7,8], "range": [[1,0],[1.5,3],[7,4],[4,3],[1,0],[1.5,3],[5,3],[6,2,1.5,2,1.5,2]]}}
     }},
    {"mark": {"type": "point", "filled": true, "size": 46, "stroke": "black", "strokeWidth": 1.3, "opacity": 1},
     "encoding": {
       "x": {"field": "E", "type": "quantitative",
             "axis": {"orient": "top", "title": null, "labels": false, "domain": false, "values": [600,640,680,720,760,800,840,880,920,960,1000,1040,1080,1120,1160,1200,1240,1280,1320,1360,1400,1440,1480,1520,1560,1600],
                      "tickSize": {"condition": {"test": "datum.value % 200 == 0", "value": -6}, "value": -3}}},
       "y": {"field": "Y", "type": "quantitative",
             "axis": {"orient": "right", "title": null, "labels": false, "domain": false, "values": [0,50,100,150,200,250,300,350], "tickSize": -5}},
       "shape": {"field": "s", "type": "nominal", "legend": null,
                 "scale": {"domain": [1,2,3,4,5,6,7,8], "range": ["square","circle","triangle-up","diamond","square","circle","triangle-up","diamond"]}},
       "fill": {"field": "s", "type": "nominal", "legend": null,
                "scale": {"domain": [1,2,3,4,5,6,7,8], "range": ["white","white","white","white","black","black","black","black"]}}
     }},
    {"transform": [{"filter": "datum.E < 0"}],
     "mark": {"type": "point", "filled": true, "strokeWidth": 1.2, "opacity": 1},
     "encoding": {
       "x": {"field": "E", "type": "quantitative", "axis": null},
       "y": {"field": "Y", "type": "quantitative", "axis": null},
       "shape": {"field": "s", "type": "nominal",
                 "scale": {"domain": [1,2,3,4,5,6,7,8], "range": [
                   "M-5,0H-0.9M0.9,0H5M-0.9,-0.9H0.9V0.9H-0.9Z",
                   "M-3.6,0h0.5M3.1,0h0.5M1,0A1,1,0,1,1,-1,0A1,1,0,1,1,1,0Z",
                   "M-5,0H-1.6M2.6,0h0.5M0,-1.1L1,0.7H-1Z",
                   "M-4.6,0H-1.4M1.4,0H4.6M0,-1.2L1,0L0,1.2L-1,0Z",
                   "M-5,0H-0.9M0.9,0H5M-0.9,-0.9H0.9V0.9H-0.9Z",
                   "M-5,0h0.5M-3.8,0h0.5M-2.6,0h0.5M1.6,0h0.5M2.8,0h0.5M4,0h0.5M1,0A1,1,0,1,1,-1,0A1,1,0,1,1,1,0Z",
                   "M-5,0h1.4M-2.8,0h1.2M1.6,0h1.2M3.6,0h1.4M0,-1.1L1,0.7H-1Z",
                   "M-5,0h1.4M-3,0h0.4M-2.2,0h0.8M1.4,0h0.8M2.8,0h0.4M3.8,0h0.4M0,-1.2L1,0L0,1.2L-1,0Z"]},
                 "legend": {"legendX": 21, "legendY": 18.5, "labelOffset": 14, "rowPadding": 1.4, "labelFont": "Liberation Serif", "labelFontSize": 13, "labelExpr": "['','1st','2nd','3rd','4th','5th','6th','7th','8th'][datum.value] + ' layer'"}},
       "fill": {"field": "s", "type": "nominal",
                "scale": {"domain": [1,2,3,4,5,6,7,8], "range": ["white","white","white","white","black","black","black","black"]},
                "legend": {"legendX": 21, "legendY": 18.5, "labelOffset": 14, "rowPadding": 1.4, "labelFont": "Liberation Serif", "labelFontSize": 13, "labelExpr": "['','1st','2nd','3rd','4th','5th','6th','7th','8th'][datum.value] + ' layer'"}},
       "stroke": {"field": "s", "type": "nominal",
                "scale": {"domain": [1,2,3,4,5,6,7,8], "range": ["black","black","black","black","black","black","black","black"]},
                "legend": {"legendX": 21, "legendY": 18.5, "labelOffset": 14, "rowPadding": 1.4, "labelFont": "Liberation Serif", "labelFontSize": 13, "labelExpr": "['','1st','2nd','3rd','4th','5th','6th','7th','8th'][datum.value] + ' layer'"}}
     }},
    {"data": {"values": [{"t": "MARLOWE simulation"}]},
     "mark": {"type": "text", "font": "Liberation Sans", "fontSize": 17.5, "color": "black", "align": "center", "baseline": "middle"},
     "encoding": {"x": {"datum": 1318, "type": "quantitative", "axis": null}, "y": {"datum": 160, "type": "quantitative", "axis": null}, "text": {"field": "t"}}},
    {"data": {"values": [{"t": "3 keV Ne⁺ →Cu"}]},
     "mark": {"type": "text", "font": "Liberation Sans", "fontSize": 17.5, "color": "black", "align": "center", "baseline": "middle"},
     "encoding": {"x": {"datum": 1296, "type": "quantitative", "axis": null}, "y": {"datum": 123, "type": "quantitative", "axis": null}, "text": {"field": "t"}}},
    {"data": {"values": [{"t": "(b)"}]},
     "mark": {"type": "text", "font": "Liberation Sans", "fontSize": 18, "color": "black", "align": "center", "baseline": "middle"},
     "encoding": {"x": {"datum": 1530, "type": "quantitative", "axis": null}, "y": {"datum": 338, "type": "quantitative", "axis": null}, "text": {"field": "t"}}},
    {"data": {"values": [{"t": "final energy E"}]},
     "mark": {"type": "text", "font": "Liberation Serif", "fontSize": 19, "color": "black", "align": "right", "baseline": "middle"},
     "encoding": {"x": {"datum": 1186, "type": "quantitative", "axis": null}, "y": {"datum": -59, "type": "quantitative", "axis": null}, "text": {"field": "t"}}},
    {"data": {"values": [{"t": "f"}]},
     "mark": {"type": "text", "font": "Liberation Serif", "fontSize": 12, "color": "black", "align": "left", "baseline": "middle"},
     "encoding": {"x": {"datum": 1188, "type": "quantitative", "axis": null}, "y": {"datum": -66, "type": "quantitative", "axis": null}, "text": {"field": "t"}}},
    {"data": {"values": [{"t": "[eV]"}]},
     "mark": {"type": "text", "font": "Liberation Serif", "fontSize": 19, "color": "black", "align": "left", "baseline": "middle"},
     "encoding": {"x": {"datum": 1206, "type": "quantitative", "axis": null}, "y": {"datum": -59, "type": "quantitative", "axis": null}, "text": {"field": "t"}}}
  ],
  "resolve": {"axis": {"x": "independent", "y": "independent"}, "scale": {"shape": "independent", "fill": "independent", "stroke": "independent"}}
}
]
}
